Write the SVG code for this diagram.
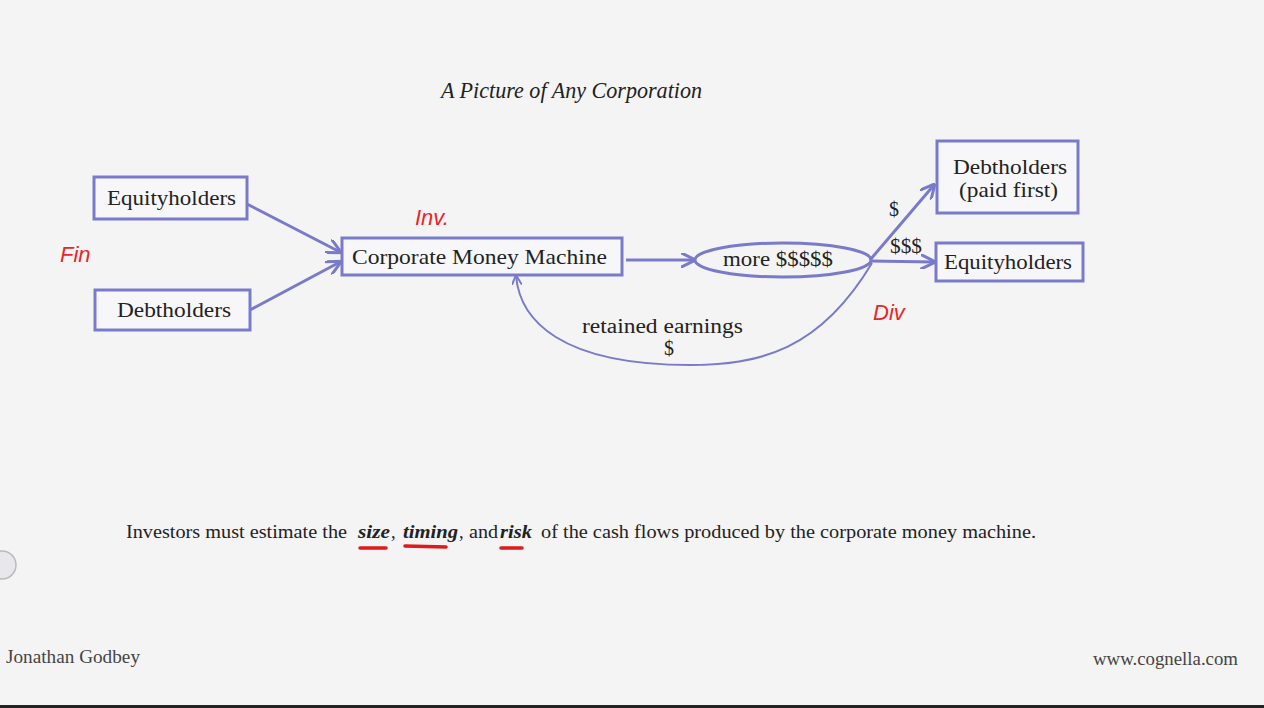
<svg xmlns="http://www.w3.org/2000/svg" width="1264" height="708" viewBox="0 0 1264 708">
<style>
.bx{fill:#f7f7f9;stroke:#7a7acb;stroke-width:3}
.ln{fill:none;stroke:#7a7acb;stroke-width:3}
.t{font-family:"Liberation Serif",serif;fill:#222;font-size:22px}
.s{font-family:"Liberation Serif",serif;fill:#222;font-size:20px}
.b{font-family:"Liberation Serif",serif;fill:#222;font-size:18.5px}
.bi{font-weight:bold;font-style:italic}
.red{font-family:"Liberation Sans",sans-serif;fill:#e8262a;font-size:22px;font-style:italic}
.ul{stroke:#e01a1a;stroke-width:3.5;stroke-linecap:round}
.ft{font-family:"Liberation Serif",serif;fill:#444;font-size:18px}
</style>
<defs>
<marker id="ah" viewBox="0 0 10 10" refX="9" refY="5" markerWidth="5" markerHeight="5" orient="auto" markerUnits="strokeWidth">
<path d="M0,0 L10,5 L0,10" fill="none" stroke="#7a7acb" stroke-width="2"/>
</marker>
</defs>
<rect width="1264" height="708" fill="#f4f4f4"/>
<text x="441" y="98" font-family="Liberation Serif,serif" font-style="italic" font-size="23" fill="#222" textLength="261" lengthAdjust="spacingAndGlyphs">A Picture of Any Corporation</text>
<g id="connectors">
<line class="ln" x1="247" y1="204" x2="340" y2="252" marker-end="url(#ah)"/>
<line class="ln" x1="250" y1="310" x2="340" y2="262" marker-end="url(#ah)"/>
<line class="ln" x1="626" y1="260" x2="694" y2="260" marker-end="url(#ah)"/>
<line class="ln" x1="870" y1="260" x2="934" y2="185" marker-end="url(#ah)"/>
<line class="ln" x1="870" y1="261" x2="934" y2="262" marker-end="url(#ah)"/>
<path d="M872,263 C820,350 760,365 690,365 C560,365 520,320 516,276" fill="none" stroke="#7a7acb" stroke-width="2" marker-end="url(#ah)"/>
</g>
<g id="equity-left"><rect class="bx" x="94" y="177" width="153" height="42"/><text class="t" x="107" y="205" textLength="129" lengthAdjust="spacingAndGlyphs">Equityholders</text></g>
<g id="debt-left"><rect class="bx" x="95" y="290" width="155" height="40"/><text class="t" x="117" y="317" textLength="114" lengthAdjust="spacingAndGlyphs">Debtholders</text></g>
<g id="machine"><rect class="bx" x="342" y="238" width="280" height="37"/><text class="t" x="352" y="264" textLength="255" lengthAdjust="spacingAndGlyphs">Corporate Money Machine</text></g>
<g id="more"><ellipse cx="783" cy="260" rx="88" ry="17" fill="none" stroke="#7a7acb" stroke-width="3"/><text class="s" x="723" y="266" textLength="110" lengthAdjust="spacingAndGlyphs">more $$$$$</text></g>
<g id="debt-right"><rect class="bx" x="937" y="141" width="141" height="72"/><text class="t" x="953" y="174" textLength="114" lengthAdjust="spacingAndGlyphs">Debtholders</text><text class="t" x="959" y="197" textLength="99" lengthAdjust="spacingAndGlyphs">(paid first)</text></g>
<g id="equity-right"><rect class="bx" x="936" y="243" width="147" height="38"/><text class="t" x="944" y="269" textLength="128" lengthAdjust="spacingAndGlyphs">Equityholders</text></g>
<text class="s" x="894" y="216" text-anchor="middle">$</text>
<text class="s" x="890" y="253" textLength="32" lengthAdjust="spacingAndGlyphs">$$$</text>
<text class="s" x="582" y="333" textLength="161" lengthAdjust="spacingAndGlyphs">retained earnings</text>
<text class="s" x="669" y="355" text-anchor="middle">$</text>
<text class="red" x="60" y="262">Fin</text>
<text class="red" x="415" y="225">Inv.</text>
<text class="red" x="873" y="320">Div</text>
<g id="caption">
<text class="b" x="126" y="538" textLength="221" lengthAdjust="spacingAndGlyphs">Investors must estimate the</text>
<text class="b bi" x="358" y="538" textLength="32" lengthAdjust="spacingAndGlyphs">size</text>
<text class="b" x="391" y="538">,</text>
<text class="b bi" x="403" y="538" textLength="55" lengthAdjust="spacingAndGlyphs">timing</text>
<text class="b" x="459" y="538">,</text>
<text class="b" x="469" y="538" textLength="29" lengthAdjust="spacingAndGlyphs">and</text>
<text class="b bi" x="500" y="538" textLength="32" lengthAdjust="spacingAndGlyphs">risk</text>
<text class="b" x="541" y="538" textLength="495" lengthAdjust="spacingAndGlyphs">of the cash flows produced by the corporate money machine.</text>
</g>
<line class="ul" x1="360" y1="548" x2="386" y2="548"/>
<line class="ul" x1="405" y1="546" x2="446" y2="547"/>
<line class="ul" x1="501" y1="548" x2="522" y2="548"/>
<circle cx="2" cy="565" r="14" fill="#e8e8ec" stroke="#bbb" stroke-width="1.5"/>
<text class="ft" x="6" y="663" textLength="134" lengthAdjust="spacingAndGlyphs">Jonathan Godbey</text>
<text class="ft" x="1093" y="665" textLength="145" lengthAdjust="spacingAndGlyphs">www.cognella.com</text>
<rect x="0" y="705" width="1264" height="3" fill="#222"/>
</svg>
